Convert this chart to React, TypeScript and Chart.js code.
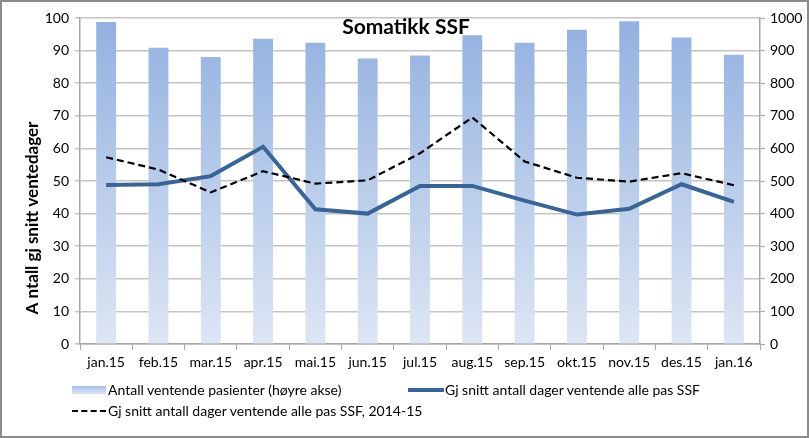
import React, { useEffect, useRef } from "react";
import { Chart, registerables } from "chart.js";

Chart.register(...registerables);

const categories = ["jan.15", "feb.15", "mar.15", "apr.15", "mai.15", "jun.15", "jul.15", "aug.15", "sep.15", "okt.15", "nov.15", "des.15", "jan.16"];
const ventendePasienter = [988, 909, 880, 936, 924, 876, 885, 947, 924, 964, 990, 940, 887];
const snittDager = [48.8, 49.0, 51.5, 60.5, 41.3, 40.0, 48.5, 48.5, 44.0, 39.7, 41.5, 49.0, 43.6];
const snittDager201415 = [57.3, 53.5, 46.5, 53.0, 49.2, 50.2, 58.5, 69.5, 56.0, 51.0, 49.8, 52.4, 48.7];

const titleText = "Somatikk SSF";
const yTitle = "A ntall gj snitt ventedager";
const legendBar = "Antall ventende pasienter (høyre akse)";
const legendLine = "Gj snitt antall dager ventende alle pas SSF";
const legendDash = "Gj snitt antall dager ventende alle pas SSF, 2014-15";

const FONT = "Lato, 'Open Sans', sans-serif";

const textPlugin = {
  id: "textPlugin",
  afterDraw(chart: any) {
    const ctx = chart.ctx;
    ctx.save();
    ctx.fillStyle = "#000";
    ctx.font = `bold 21px ${FONT}`;
    ctx.textAlign = "center";
    ctx.textBaseline = "middle";
    ctx.fillText(titleText, 404, 25);
    ctx.translate(31, 216);
    ctx.rotate(-Math.PI / 2);
    ctx.font = `bold 17px ${FONT}`;
    ctx.fillText(yTitle, 0, 0);
    ctx.restore();
  },
};

export default function App() {
  const ref = useRef<HTMLCanvasElement>(null);
  useEffect(() => {
    const canvas = ref.current!;
    const chart = new Chart(canvas, {
      type: "bar",
      data: {
        labels: categories,
        datasets: [
          {
            type: "line",
            label: legendLine,
            data: snittDager,
            yAxisID: "y",
            borderColor: "#3a6496",
            borderWidth: 4,
            pointRadius: 0,
            tension: 0,
            order: 1,
          },
          {
            type: "line",
            label: legendDash,
            data: snittDager201415,
            yAxisID: "y",
            borderColor: "#000",
            borderWidth: 2.2,
            borderDash: [7, 4],
            pointRadius: 0,
            tension: 0,
            order: 0,
          },
          {
            type: "bar",
            label: legendBar,
            data: ventendePasienter,
            yAxisID: "y1",
            order: 2,
            categoryPercentage: 1,
            barPercentage: 0.38,
            backgroundColor: (c: any) => {
              const ca = c.chart.chartArea;
              if (!ca) return "#94b2e2";
              const g = c.chart.ctx.createLinearGradient(0, ca.top, 0, ca.bottom);
              g.addColorStop(0, "#92b0e0");
              g.addColorStop(1, "#dde6f4");
              return g;
            },
          } as any,
        ],
      },
      options: {
        animation: false,
        responsive: false,
        maintainAspectRatio: false,
        layout: { padding: { top: 16, bottom: 52, left: 0, right: 0 } },
        plugins: { legend: { display: false }, tooltip: { enabled: false }, title: { display: false } },
        scales: {
          x: {
            offset: true,
            grid: { display: true, drawOnChartArea: false, drawTicks: true, tickLength: 6, color: "#a6a6a6", offset: true },
            border: { display: true, color: "#a6a6a6", width: 1.5 },
            ticks: { color: "#000", font: { family: FONT, size: 14 }, padding: 4, maxRotation: 0, autoSkip: false },
            afterFit: (s: any) => { s.height = 40; },
          },
          y: {
            position: "left",
            min: 0,
            max: 100,
            ticks: { stepSize: 10, color: "#000", font: { family: FONT, size: 14 }, padding: 6 },
            grid: { color: "#c4c4c4", lineWidth: 1.5, tickLength: 5, drawTicks: true },
            border: { display: true, color: "#a6a6a6", width: 1.5 },
            afterFit: (s: any) => { s.width = 78; },
          },
          y1: {
            position: "right",
            min: 0,
            max: 1000,
            ticks: { stepSize: 100, color: "#000", font: { family: FONT, size: 14 }, padding: 5, callback: (v: any) => String(v) },
            grid: { drawOnChartArea: false, drawTicks: true, tickLength: 5, color: "#a6a6a6" },
            border: { display: true, color: "#a6a6a6", width: 1.5 },
            afterFit: (s: any) => { s.width = 47; },
          },
        },
      },
      plugins: [textPlugin],
    });
    return () => chart.destroy();
  }, []);

  const legendText: React.CSSProperties = { fontFamily: FONT, fontSize: 14, color: "#000", whiteSpace: "nowrap", position: "absolute" };

  return (
    <div style={{ position: "absolute", left: 0, top: 0, width: 809, height: 438, background: "#fff", boxSizing: "border-box", border: "2px solid #8c8c8c" }}>
      <canvas ref={ref} width={805} height={434} style={{ position: "absolute", left: 0, top: 0, width: 805, height: 434 }} />
      <div style={{ position: "absolute", left: 70, top: 384, width: 34, height: 8, background: "linear-gradient(#a9c1e8, #dbe5f4)" }} />
      <div style={{ ...legendText, left: 106, top: 379 }}>{legendBar}</div>
      <div style={{ position: "absolute", left: 406, top: 386, width: 36, height: 4, background: "#3a6496" }} />
      <div style={{ ...legendText, left: 443, top: 379 }}>{legendLine}</div>
      <div style={{ position: "absolute", left: 70, top: 408, width: 34, height: 0, borderTop: "2.5px dashed #000" }} />
      <div style={{ ...legendText, left: 106, top: 400 }}>{legendDash}</div>
    </div>
  );
}
